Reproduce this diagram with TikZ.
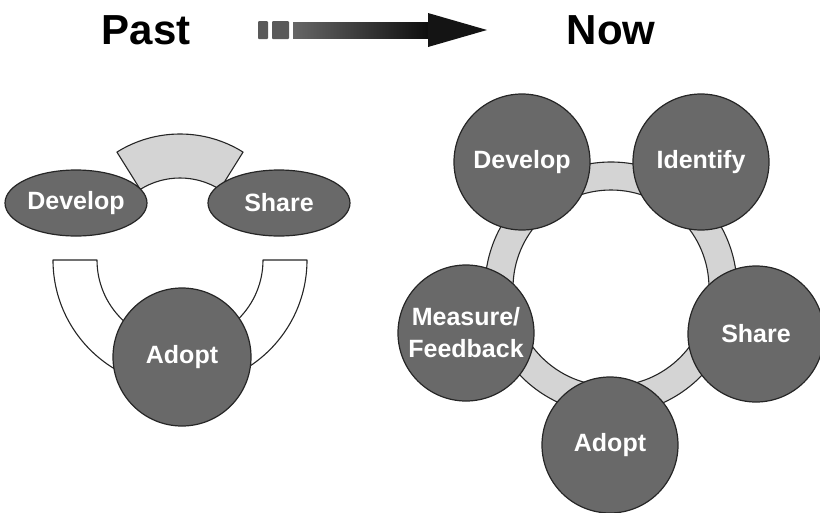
\documentclass[tikz,border=0pt]{standalone}
\usepackage{fontspec}
\setmainfont{Liberation Sans}
\usetikzlibrary{shapes.geometric}

\tikzset{
  stage/.style={circle, draw=black!85, line width=1.2pt, fill=black!59,
    minimum size=136pt, inner sep=0pt, text=white, align=center,
    font=\fontsize{25}{32}\selectfont\bfseries},
  oldstage/.style={ellipse, draw=black!85, line width=1.2pt, fill=black!59,
    minimum width=142pt, minimum height=66pt, inner sep=0pt, text=white,
    font=\fontsize{25}{32}\selectfont\bfseries},
  band/.style={draw=black!85, line width=1.1pt, fill=black!17},
  openband/.style={draw=black!85, line width=1.1pt, fill=white},
  heading/.style={font=\fontsize{42}{48}\selectfont\bfseries, inner sep=0pt}
}

\begin{document}
\begin{tikzpicture}[x=1pt, y=-1pt, line cap=round, line join=round]

\useasboundingbox (0,0) rectangle (820,512);

% Headings
\node[heading] (past) at (146,30) {Past};
\node[heading] (now) at (611,30) {Now};

% Arrow between headings
\fill[black!65, rounded corners=1pt] (258,21) rectangle (268,39);
\fill[black!65, rounded corners=1pt] (272,21) rectangle (289,39);
\shade[left color=black!60, right color=black!95] (293,22) rectangle (430,38);
\fill[black!92] (428,13) -- (487,30) -- (428,47) -- cycle;

% Centres
\coordinate (Lt) at (180,253);
\coordinate (Lb) at (180,260);
\coordinate (Rc) at (611,288);

% Past: bands
\draw[band] ([shift={(Lt)}]-122:119) arc[start angle=-122, end angle=-58, radius=119]
  -- ([shift={(Lt)}]-58:75) arc[start angle=-58, end angle=-122, radius=75] -- cycle;
\draw[openband] (53,260) arc[start angle=180, end angle=0, radius=127]
  -- (263,260) arc[start angle=0, end angle=180, radius=83] -- cycle;

% Past: stages
\node[oldstage] (pdev) at (76,203) {Develop};
\node[oldstage] (pshare) at (279,203) {Share};
\node[stage, minimum size=138pt] (padopt) at (182,357) {Adopt};

% Now: ring
\draw[band, even odd rule] (Rc) circle (126) (Rc) circle (98);

% Now: stages
\node[stage] (dev) at (522,162) {Develop};
\node[stage] (ident) at (701,162) {Identify};
\node[stage] (share) at (756,334) {Share};
\node[stage] (adopt) at (610,445) {Adopt};
\node[stage] (meas) at (466,333) {Measure/\\Feedback};

\end{tikzpicture}
\end{document}
